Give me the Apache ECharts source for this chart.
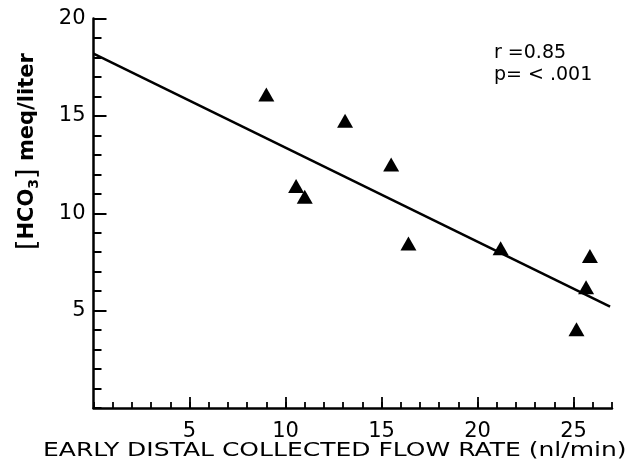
<!DOCTYPE html>
<html>
<head>
<meta charset="utf-8">
<script src="https://cdn.jsdelivr.net/npm/echarts@6/dist/echarts.min.js"></script>
<style>html,body{margin:0;padding:0;background:#fff;}#c{width:639px;height:465px;}</style>
</head>
<body>
<div id="c"></div>
<script>
// Data
var flowRate = [9.0, 13.1, 15.5, 10.55, 11.0, 16.4, 21.2, 25.85, 25.65, 25.15];
var hco3 = [16.1, 14.75, 12.5, 11.4, 10.85, 8.45, 8.2, 7.8, 6.2, 4.05];
var fitX = [0, 26.9];
var fitY = [18.2, 5.2];
var xTickLabels = [5, 10, 15, 20, 25];
var yTickLabels = [5, 10, 15, 20];
var xTitle = 'EARLY DISTAL COLLECTED FLOW RATE (nl/min)';
var statLines = ['r =0.85', 'p= < .001'];

var FONT = 'DejaVu Sans';
var chart = echarts.init(document.getElementById('c'), null, {renderer: 'canvas'});

var points = flowRate.map(function (x, i) { return [x, hco3[i]]; });
var fit = fitX.map(function (x, i) { return [x, fitY[i]]; });

var axisLine = {show: true, lineStyle: {color: '#000', width: 2.5}};

var option = {
  backgroundColor: '#fff',
  animation: false,
  grid: {left: 93.5, right: 27, top: 18.5, bottom: 57},
  xAxis: [
    {
      type: 'value', min: 0, max: 27, interval: 1, position: 'bottom',
      axisLine: axisLine,
      axisTick: {show: true, inside: true, length: 6, lineStyle: {color: '#000', width: 1.8}},
      axisLabel: {show: false},
      splitLine: {show: false}
    },
    {
      type: 'value', min: 0, max: 27, interval: 1, position: 'bottom', offset: 0,
      axisLine: {show: false},
      axisTick: {show: true, inside: true, length: 11, customValues: xTickLabels, lineStyle: {color: '#000', width: 1.8}},
      axisLabel: {show: true, customValues: xTickLabels, margin: 13, color: '#000', fontFamily: FONT, fontSize: 21},
      splitLine: {show: false}
    }
  ],
  yAxis: [
    {
      type: 'value', min: 0, max: 20, interval: 1, position: 'left',
      axisLine: axisLine,
      axisTick: {show: true, inside: true, length: 8, lineStyle: {color: '#000', width: 2}},
      axisLabel: {show: false},
      splitLine: {show: false}
    },
    {
      type: 'value', min: 0, max: 20, interval: 1, position: 'left', offset: 0,
      axisLine: {show: false},
      axisTick: {show: true, inside: true, length: 13, customValues: yTickLabels, lineStyle: {color: '#000', width: 2}},
      axisLabel: {show: true, customValues: yTickLabels, margin: 8, color: '#000', fontFamily: FONT, fontSize: 21},
      splitLine: {show: false}
    }
  ],
  graphic: [
    {
      type: 'text', x: 43, y: 441, scaleX: 1.25,
      style: {text: xTitle, fill: '#000', font: '20px "' + FONT + '"'}
    },
    {
      type: 'text', x: 494, y: 42,
      style: {text: statLines.join('\n'), fill: '#000', font: '19px "' + FONT + '"', lineHeight: 22}
    },
    {
      type: 'text', x: 14, y: 250, rotation: Math.PI / 2,
      style: {
        text: '{b|[}{t|HCO}{s|3}{b|]}{t| meq/liter}',
        fill: '#000',
        rich: {
          b: {fontFamily: FONT, fontSize: 27, fontWeight: 'normal', fill: '#000'},
          t: {fontFamily: FONT, fontSize: 21, fontWeight: 'bold', fill: '#000'},
          s: {fontFamily: FONT, fontSize: 14, fontWeight: 'bold', fill: '#000', verticalAlign: 'bottom', padding: [7, 0, 0, 0]}
        }
      }
    }
  ],
  series: [
    {
      type: 'line', data: fit, xAxisIndex: 0, yAxisIndex: 0,
      symbol: 'none', lineStyle: {color: '#000', width: 2.5}, z: 2
    },
    {
      type: 'scatter', data: points, xAxisIndex: 0, yAxisIndex: 0,
      symbol: 'triangle', symbolSize: [16, 14],
      itemStyle: {color: '#000', opacity: 1}, z: 3
    }
  ]
};
chart.setOption(option);
</script>
</body>
</html>
